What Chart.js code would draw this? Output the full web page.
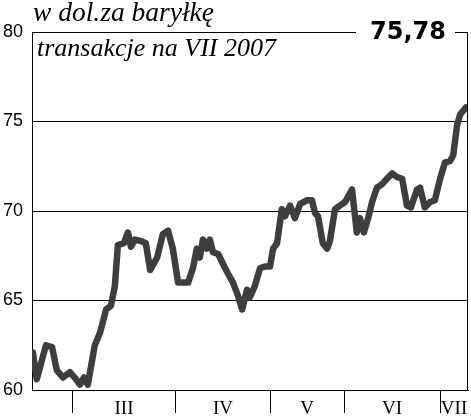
<!DOCTYPE html>
<html>
<head>
<meta charset="utf-8">
<script src="https://cdn.jsdelivr.net/npm/chart.js@4.4.0/dist/chart.umd.min.js"></script>
<style>
    body { margin: 0; background: #fff; }
</style>
</head>
<body>
<canvas id="chartRopa" width="471" height="420"></canvas>
<script>
// dzien sesji (od poczatku wykresu) i cena w dol. za barylke
const dni = [0.2, 1.1, 3.2, 4.6, 5.7, 7.1, 8.7, 10.1, 11.0, 11.9, 12.8, 14.4, 15.6, 17.0, 18.1, 19.0, 19.7, 21.1, 22.0, 22.7,
    23.6, 25.2, 26.1, 27.1, 28.7, 30.0, 31.2, 32.3, 33.5, 34.6, 35.8, 36.9, 37.8, 38.5, 39.2, 40.1, 40.8, 41.5, 42.7, 44.3,
    45.4, 46.1, 47.2, 48.2, 49.3, 50.0, 51.1, 52.3, 53.4, 54.6, 55.3, 56.2, 57.3, 58.0, 59.2, 60.3, 61.5, 63.1, 64.2, 64.9,
    65.6, 66.7, 67.7, 68.3, 69.5, 70.6, 71.8, 73.4, 74.5, 75.2, 76.1, 77.1, 78.0, 79.1, 80.3, 81.4, 82.6, 83.7, 84.9, 86.0,
    86.9, 88.3, 89.0, 90.1, 91.3, 92.4, 93.6, 94.7, 95.9, 96.6, 97.5, 98.2, 99.5];
const ceny = [62.1, 60.6, 62.5, 62.4, 61.1, 60.7, 61.0, 60.6, 60.3, 60.7, 60.3, 62.5, 63.2, 64.5, 64.7, 65.8, 68.1, 68.2, 68.8, 68.0,
    68.4, 68.3, 68.2, 66.7, 67.4, 68.7, 68.9, 67.9, 66.0, 66.0, 66.0, 66.8, 67.9, 67.4, 68.4, 67.9, 68.4, 67.7, 67.6, 66.8,
    66.3, 66.0, 65.3, 64.5, 65.6, 65.2, 65.8, 66.8, 66.9, 66.9, 67.9, 68.2, 70.1, 69.7, 70.3, 69.6, 70.4, 70.6, 70.6, 69.9,
    69.7, 68.2, 67.9, 68.3, 70.1, 70.3, 70.5, 71.2, 68.8, 69.6, 68.8, 69.6, 70.5, 71.3, 71.5, 71.8, 72.1, 71.9, 71.8, 70.3,
    70.2, 71.2, 71.3, 70.2, 70.5, 70.6, 71.8, 72.7, 72.8, 73.1, 74.8, 75.4, 75.78];

const granice = [9.2, 33.0, 54.6, 71.6, 93.6];
const miesiace = ["III", "IV", "V", "VI", "VII"];
const srodki = [21.1, 43.8, 63.1, 82.6, 96.8];
const osY = [60, 65, 70, 75, 80];
const ostatnia = "75,78";

const naglowek = {
    id: "naglowek",
    afterDraw(chart) {
        const ctx = chart.ctx;
        const a = chart.chartArea;
        ctx.save();
        ctx.strokeStyle = "#000";
        ctx.lineWidth = 1;
        ctx.beginPath();
        ctx.moveTo(Math.round(a.right) - 0.5, a.top);
        ctx.lineTo(Math.round(a.right) - 0.5, a.bottom);
        ctx.stroke();

        ctx.fillStyle = "#fff";
        ctx.fillRect(356, a.top - 14, 99, 28);
        ctx.fillStyle = "#000";
        ctx.font = "bold 24px 'DejaVu Sans'";
        ctx.textAlign = "center";
        ctx.textBaseline = "middle";
        ctx.fillText(ostatnia, 408, a.top + 1);

        ctx.textAlign = "left";
        ctx.textBaseline = "alphabetic";
        ctx.font = "italic 27.5px 'Liberation Serif'";
        ctx.fillText("w dol.za baryłkę", 33, 21);
        ctx.font = "italic 26px 'Liberation Serif'";
        ctx.fillText("transakcje na VII 2007", 37, 56);
        ctx.restore();
    }
};

new Chart(document.getElementById("chartRopa"), {
    type: "line",
    data: {
        datasets: [{
            data: dni.map((d, i) => ({ x: d, y: ceny[i] })),
            borderColor: "#3e3e3e",
            borderWidth: 6.5,
            borderJoinStyle: "round",
            borderCapStyle: "round",
            pointRadius: 0,
            tension: 0
        }]
    },
    options: {
        responsive: false,
        animation: false,
        layout: {
            padding: { top: 32, right: 3, left: 0, bottom: 0 }
        },
        plugins: {
            legend: { display: false },
            tooltip: { enabled: false }
        },
        scales: {
            x: {
                type: "linear",
                min: 0,
                max: 100,
                afterBuildTicks: scale => {
                    scale.ticks = granice.concat(srodki).sort((a, b) => a - b).map(v => ({ value: v }));
                },
                afterFit: scale => { scale.height = 30; },
                border: { display: true, color: "#000", width: 1 },
                grid: {
                    drawOnChartArea: false,
                    tickLength: 23,
                    color: c => granice.includes(c.tick.value) ? "#000" : "rgba(0,0,0,0)"
                },
                ticks: {
                    padding: -15,
                    maxRotation: 0,
                    autoSkip: false,
                    color: "#000",
                    font: { family: "'Liberation Serif'", size: 19 },
                    callback: v => {
                        const i = srodki.indexOf(v);
                        return i >= 0 ? miesiace[i] : "";
                    }
                }
            },
            y: {
                min: 60,
                max: 80,
                afterBuildTicks: scale => {
                    scale.ticks = osY.map(v => ({ value: v }));
                },
                afterFit: scale => { scale.width = 32; },
                border: { display: true, color: "#000", width: 1 },
                grid: {
                    color: "#000",
                    lineWidth: 1,
                    drawTicks: false
                },
                ticks: {
                    padding: 9,
                    color: "#000",
                    font: { family: "'Liberation Sans'", size: 18 }
                }
            }
        }
    },
    plugins: [naglowek]
});
</script>
</body>
</html>
